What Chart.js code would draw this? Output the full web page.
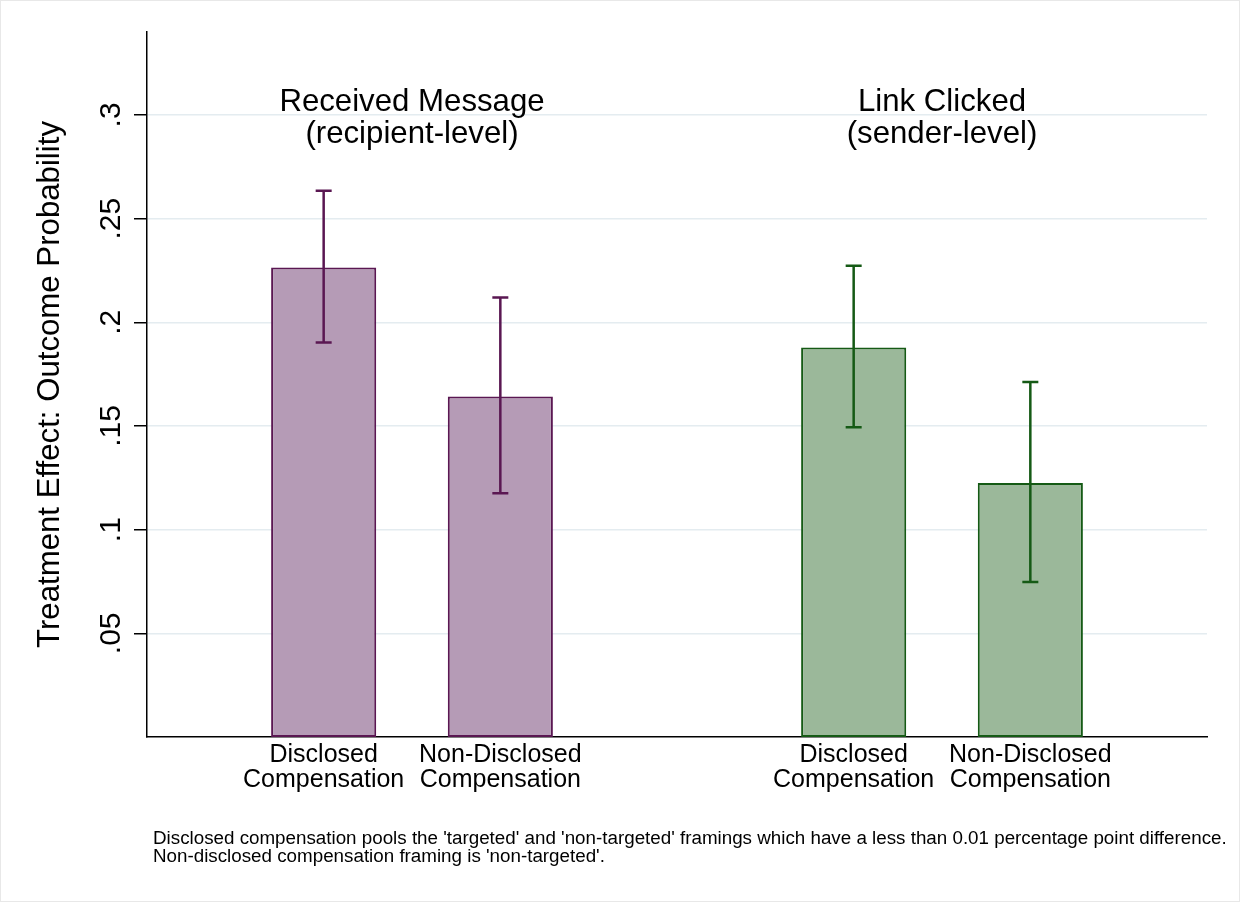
<!DOCTYPE html>
<html>
<head>
<meta charset="utf-8">
<script src="https://cdn.jsdelivr.net/npm/chart.js@4"></script>
<style>
  html, body { margin: 0; padding: 0; background: #fff; }
  canvas { display: block; }
</style>
</head>
<body>
<canvas id="myChart" width="1240" height="902"></canvas>
<script>
///////////// Data
const categories = [
  ['Disclosed', 'Compensation'],
  ['Non-Disclosed', 'Compensation'],
  ['Disclosed', 'Compensation'],
  ['Non-Disclosed', 'Compensation']
];
const xPositions = [1, 2, 4, 5];
const panelOf = [0, 0, 1, 1];
const effects = [0.2264, 0.1642, 0.1879, 0.1225];
const ciLow  = [0.1903, 0.1175, 0.1494, 0.0747];
const ciHigh = [0.2634, 0.2119, 0.2273, 0.1712];

const panelTitles = [['Received Message', '(recipient-level)'], ['Link Clicked', '(sender-level)']];
const panelCenters = [1.5, 4.5];

const yTicks = [0.05, 0.1, 0.15, 0.2, 0.25, 0.3];
const yTickLabels = ['.05', '.1', '.15', '.2', '.25', '.3'];
const yTitle = 'Treatment Effect: Outcome Probability';
const footnote = [
  "Disclosed compensation pools the 'targeted' and 'non-targeted' framings which have a less than 0.01 percentage point difference.",
  "Non-disclosed compensation framing is 'non-targeted'."
];

const fills = ['#b59bb6', '#9bb89a'];
const edges = ['#5a1752', '#155a15'];
const FONT = '"Liberation Sans", Arial, Helvetica, sans-serif';

/////////// Extra drawing: error bars, titles, rotated y labels, note
const extras = {
  id: 'extras',
  afterDatasetsDraw(chart) {
    const { ctx, scales: { x, y } } = chart;
    ctx.save();
    ctx.lineWidth = 2.5;
    for (let i = 0; i < effects.length; i++) {
      const px = x.getPixelForValue(xPositions[i]);
      const top = y.getPixelForValue(ciHigh[i]);
      const bot = y.getPixelForValue(ciLow[i]);
      ctx.strokeStyle = edges[panelOf[i]];
      ctx.beginPath();
      ctx.moveTo(px, top); ctx.lineTo(px, bot);
      ctx.moveTo(px - 8, top); ctx.lineTo(px + 8, top);
      ctx.moveTo(px - 8, bot); ctx.lineTo(px + 8, bot);
      ctx.stroke();
    }
    ctx.restore();
  },
  afterDraw(chart) {
    const { ctx, chartArea, scales: { x, y } } = chart;
    ctx.save();
    ctx.fillStyle = '#000';

    // panel titles
    ctx.font = '31.2px ' + FONT;
    ctx.textAlign = 'center';
    ctx.textBaseline = 'alphabetic';
    panelTitles.forEach((lines, k) => {
      const px = x.getPixelForValue(panelCenters[k]);
      lines.forEach((t, j) => ctx.fillText(t, px, 111 + j * 32));
    });

    // y tick labels, rotated like Stata
    ctx.font = '30px ' + FONT;
    yTicks.forEach((v, i) => {
      ctx.save();
      ctx.translate(120, y.getPixelForValue(v));
      ctx.rotate(-Math.PI / 2);
      ctx.textAlign = 'center';
      ctx.fillText(yTickLabels[i], 0, 0);
      ctx.restore();
    });

    // y axis title
    ctx.save();
    ctx.font = '31.2px ' + FONT;
    ctx.translate(59, (chartArea.top + chartArea.bottom) / 2);
    ctx.rotate(-Math.PI / 2);
    ctx.textAlign = 'center';
    ctx.fillText(yTitle, 0, 0);
    ctx.restore();

    // note
    ctx.font = '18.8px ' + FONT;
    ctx.textAlign = 'left';
    footnote.forEach((t, j) => ctx.fillText(t, 153, 844 + j * 18));

    // faint outer frame
    ctx.strokeStyle = '#e8e8e8';
    ctx.lineWidth = 1;
    ctx.strokeRect(0.5, 0.5, chart.width - 1, chart.height - 1);
    ctx.restore();
  }
};

const myChart = document.getElementById('myChart');

new Chart(myChart, {
  type: 'bar',
  data: {
    datasets: [{
      data: xPositions.map((v, i) => ({ x: v, y: effects[i] })),
      backgroundColor: panelOf.map(p => fills[p]),
      borderColor: panelOf.map(p => edges[p]),
      borderWidth: 2,
      borderSkipped: false,
      barPercentage: 0.595,
      categoryPercentage: 1
    }]
  },
  options: {
    responsive: false,
    devicePixelRatio: 1,
    animation: false,
    layout: { padding: { left: 0, right: 33, top: 32, bottom: 0 } },
    plugins: { legend: { display: false }, tooltip: { enabled: false } },
    scales: {
      x: {
        type: 'linear',
        min: 0,
        max: 6,
        offset: false,
        grid: { display: false, drawTicks: false, offset: false },
        border: { display: true, color: '#000', width: 1.5 },
        afterBuildTicks: s => { s.ticks = xPositions.map(v => ({ value: v })); },
        afterFit: s => { s.height = 165; },
        ticks: {
          autoSkip: false,
          maxRotation: 0,
          minRotation: 0,
          padding: 6,
          color: '#000',
          font: { family: FONT, size: 25, lineHeight: 1.0 },
          callback: (value, index) => categories[index]
        }
      },
      y: {
        type: 'linear',
        min: 0,
        max: 0.34,
        grid: { color: '#e4ecf0', lineWidth: 1.5, tickLength: 13, tickColor: '#000', tickWidth: 1.5 },
        border: { display: true, color: '#000', width: 1.5 },
        afterBuildTicks: s => { s.ticks = yTicks.map(v => ({ value: v })); },
        afterFit: s => { s.width = 147; },
        ticks: { display: false }
      }
    }
  },
  plugins: [extras]
});
</script>
</body>
</html>
